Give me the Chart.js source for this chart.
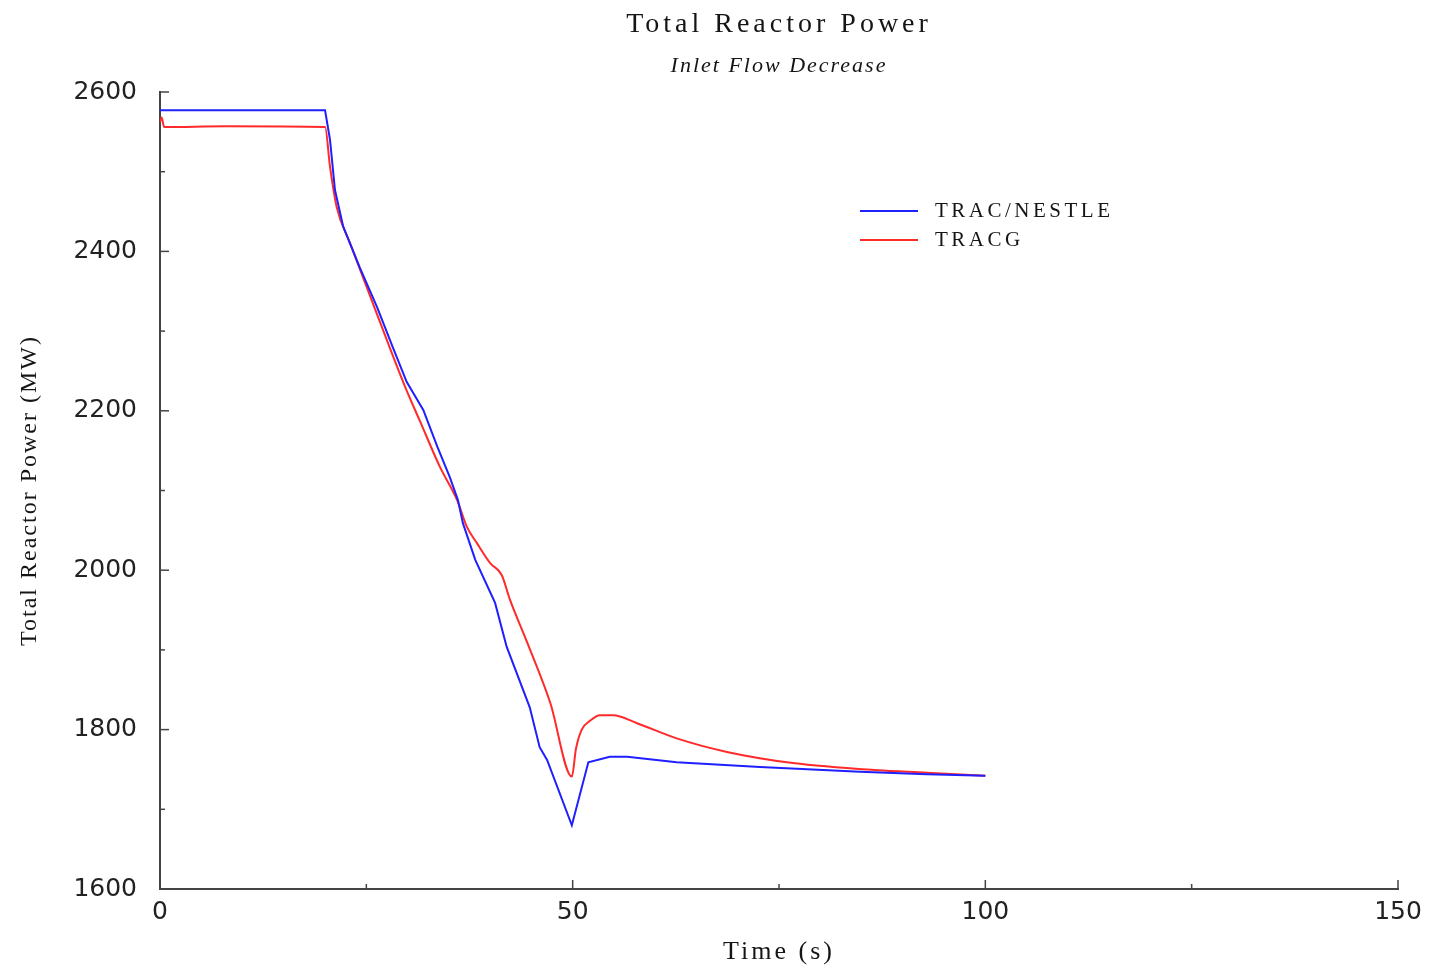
<!DOCTYPE html>
<html>
<head>
<meta charset="utf-8">
<title>Total Reactor Power</title>
<script src="https://cdn.jsdelivr.net/npm/chart.js"></script>
<style>
    html, body { margin: 0; padding: 0; background: #fff; }
    #wrap { width: 1435px; height: 974px; position: relative; }
</style>
</head>
<body>
<div id="wrap"><canvas id="power_chart"></canvas></div>
<script>
var seriesNames = ["TRAC/NESTLE", "TRACG"];
var seriesColors = ["#1f1fff", "#ff2a2a"];

var nestleTime  = [0, 20.0, 20.6, 21.2, 22.2, 24.2, 26.3, 28.2, 29.9, 31.9, 33.6, 35.1, 36.1, 36.7, 38.2, 40.6, 42.0, 44.8, 46.0, 46.9, 49.9, 51.9, 54.5, 56.6, 62.6, 72.7, 84.8, 92.9, 100];
var nestlePower = [2577, 2577, 2540, 2477, 2431, 2380, 2330, 2280, 2236, 2201, 2155, 2117, 2088, 2059, 2013, 1959, 1904, 1828, 1778, 1762, 1680, 1759, 1766, 1766, 1759, 1753, 1747, 1744, 1742];

var tracgTime  = [0, 0.2, 0.5, 8, 20.0, 20.6, 21.4, 23.0, 26.3, 29.7, 31.5, 33.9, 36.0, 37.2, 38.4, 40.0, 41.4, 42.4, 44.5, 47.3, 49.9, 50.4, 51.1, 52.1, 53.3, 54.9, 57.8, 62.6, 68.7, 76.7, 86.9, 92.9, 100];
var tracgPower = [2562, 2568, 2556, 2557, 2556, 2506, 2456, 2411, 2321, 2230, 2187, 2130, 2088, 2054, 2034, 2009, 1994, 1963, 1909, 1833, 1741, 1776, 1800, 1811, 1818, 1818, 1808, 1789, 1772, 1758, 1749, 1746, 1742];

var xTicks = [0, 50, 100, 150];
var xMinor = [25, 75, 125];
var yTicks = [1600, 1800, 2000, 2200, 2400, 2600];
var yMinor = [1700, 1900, 2100, 2300, 2500];

function toPoints(xs, ys) {
    return xs.map(function(x, i) { return { x: x, y: ys[i] }; });
}

// titles, legend and inward tick marks
var decorations = {
    id: "decorations",
    afterDraw: function(chart) {
        var ctx = chart.ctx, area = chart.chartArea;
        var xs = chart.scales.x, ys = chart.scales.y;
        ctx.save();

        ctx.strokeStyle = "#444";
        ctx.lineWidth = 1.5;
        xTicks.concat(xMinor).forEach(function(v) {
            var px = xs.getPixelForValue(v);
            var len = xTicks.indexOf(v) >= 0 ? 9 : 5;
            ctx.beginPath(); ctx.moveTo(px, area.bottom); ctx.lineTo(px, area.bottom - len); ctx.stroke();
        });
        yTicks.concat(yMinor).forEach(function(v) {
            var py = ys.getPixelForValue(v);
            var len = yTicks.indexOf(v) >= 0 ? 9 : 5;
            ctx.beginPath(); ctx.moveTo(area.left, py); ctx.lineTo(area.left + len, py); ctx.stroke();
        });

        var cx = (area.left + area.right) / 2;
        ctx.fillStyle = "#151515";
        ctx.textAlign = "center";
        ctx.textBaseline = "middle";

        ctx.font = '28px "Liberation Serif"';
        ctx.letterSpacing = "4px";
        ctx.fillText("Total Reactor Power", cx, 25);

        ctx.font = 'italic 22px "Liberation Serif"';
        ctx.letterSpacing = "2px";
        ctx.fillText("Inlet Flow Decrease", cx, 66);

        ctx.font = '26px "Liberation Serif"';
        ctx.letterSpacing = "3px";
        ctx.fillText("Time (s)", cx, 952);

        ctx.save();
        ctx.translate(30, (area.top + area.bottom) / 2);
        ctx.rotate(-Math.PI / 2);
        ctx.font = '24px "Liberation Serif"';
        ctx.letterSpacing = "2px";
        ctx.fillText("Total Reactor Power (MW)", 0, 0);
        ctx.restore();

        // legend
        ctx.textAlign = "left";
        ctx.font = '21px "Liberation Serif"';
        ctx.letterSpacing = "3.5px";
        seriesNames.forEach(function(name, i) {
            var ly = 211 + i * 29;
            ctx.strokeStyle = seriesColors[i];
            ctx.lineWidth = 2;
            ctx.beginPath(); ctx.moveTo(860, ly); ctx.lineTo(918, ly); ctx.stroke();
            ctx.fillText(name, 935, ly);
        });

        ctx.restore();
    }
};

new Chart("power_chart", {
    type: "line",
    data: {
        datasets: [{
            label: seriesNames[0],
            data: toPoints(nestleTime, nestlePower),
            borderColor: seriesColors[0],
            borderWidth: 2,
            pointRadius: 0,
            tension: 0
        }, {
            label: seriesNames[1],
            data: toPoints(tracgTime, tracgPower),
            borderColor: seriesColors[1],
            borderWidth: 2,
            pointRadius: 0,
            cubicInterpolationMode: "monotone"
        }]
    },
    options: {
        responsive: true,
        maintainAspectRatio: false,
        animation: false,
        layout: { padding: { top: 92, right: 37, left: 0, bottom: 0 } },
        plugins: {
            legend: { display: false },
            tooltip: { enabled: false }
        },
        scales: {
            x: {
                type: "linear",
                min: 0, max: 150,
                afterBuildTicks: function(s) { s.ticks = xTicks.map(function(v) { return { value: v }; }); },
                afterFit: function(s) { s.height = 85; },
                grid: { display: false, drawTicks: false },
                border: { display: true, color: "#444", width: 2 },
                ticks: {
                    color: "#222", padding: 8,
                    font: { family: '"DejaVu Sans"', size: 25 },
                    callback: function(v) { return String(v); }
                }
            },
            y: {
                type: "linear",
                min: 1600, max: 2600,
                afterBuildTicks: function(s) { s.ticks = yTicks.map(function(v) { return { value: v }; }); },
                afterFit: function(s) { s.width = 160; },
                grid: { display: false, drawTicks: false },
                border: { display: true, color: "#444", width: 2 },
                ticks: {
                    color: "#222", padding: 23,
                    font: { family: '"DejaVu Sans"', size: 25 },
                    callback: function(v) { return String(v); }
                }
            }
        }
    },
    plugins: [decorations]
});
</script>
</body>
</html>
